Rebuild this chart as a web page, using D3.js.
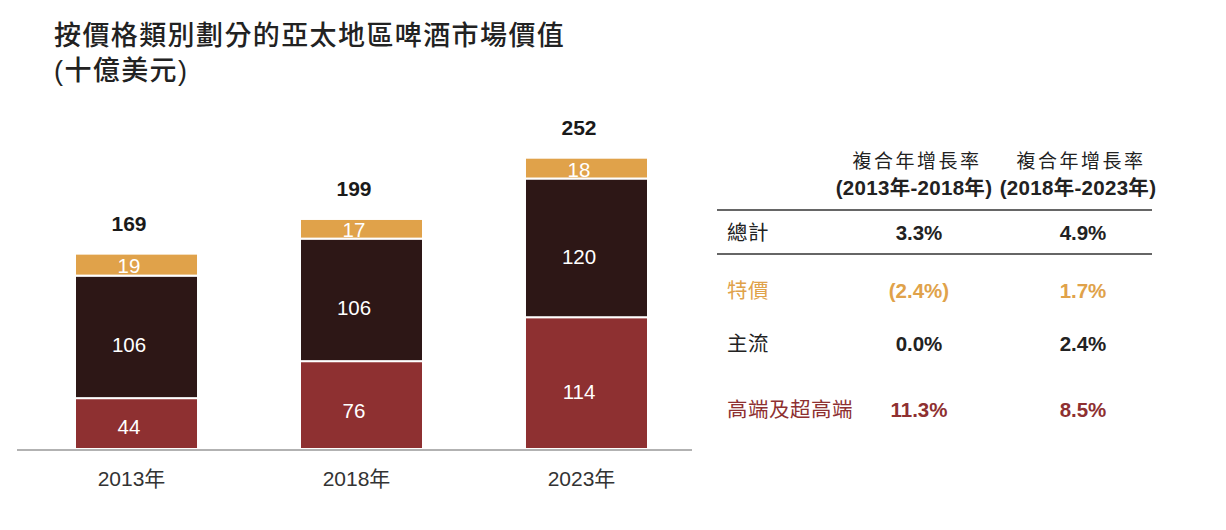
<!DOCTYPE html>
<html>
<head>
<meta charset="utf-8">
<script src="https://cdn.jsdelivr.net/npm/d3@7"></script>
<style>
  body { margin: 0; background: #fff; }
  svg { font-family: "Liberation Sans", "Noto Sans CJK TC", sans-serif; }
</style>
</head>
<body>
<div id="chart"></div>
<script>
// chart data
let years = ["2013年", "2018年", "2023年"];
let premium = [44, 76, 114];      // 高端及超高端
let mainstream = [106, 106, 120]; // 主流
let valueSeg = [19, 17, 18];      // 特價
let totals = [169, 199, 252];

// CAGR table
let rowLabels = ["總計", "特價", "主流", "高端及超高端"];
let cagr1 = ["3.3%", "(2.4%)", "0.0%", "11.3%"];
let cagr2 = ["4.9%", "1.7%", "2.4%", "8.5%"];
let headers = [["複合年增長率", "(2013年-2018年)"], ["複合年增長率", "(2018年-2023年)"]];
let titleLines = ["按價格類別劃分的亞太地區啤酒市場價值", "(十億美元)"];

let width = 1226;
let height = 530;

let colors = { premium: "#8E3031", mainstream: "#2D1716", value: "#E0A24A" };
let rowColors = ["#222", "#E0A24A", "#222", "#8E3031"];

let labelShift = -7.5; // labels sit a little left of bar centre in the original

let svg = d3.select("#chart")
            .append("svg")
            .attr("width", width)
            .attr("height", height);

// title, one text per line
svg.selectAll("text.title")
   .data(titleLines)
   .enter()
   .append("text")
   .attr("class", "title")
   .attr("x", 54)
   .attr("y", (d, i) => 45 + i * 35)
   .attr("fill", "#222")
   .style("font-family", "'Liberation Sans', 'Noto Sans CJK TC', sans-serif")
   .style("font-size", "27px")
   .style("font-weight", 500)
   .style("letter-spacing", "1.4px")
   .text(d => d);

// scales
let xScale = d3.scaleBand()
               .domain(years)
               .range([24, 699])
               .paddingInner(0.4533)
               .paddingOuter(0.2267);

let yScale = d3.scaleLinear()
               .domain([0, 252])
               .range([449, 157.7]);

let stackData = years.map((y, i) => ({
    year: y, premium: premium[i], mainstream: mainstream[i], value: valueSeg[i]
}));

let series = d3.stack().keys(["premium", "mainstream", "value"])(stackData);

let groups = svg.selectAll("g.series")
                .data(series)
                .enter()
                .append("g")
                .attr("class", "series")
                .attr("fill", d => colors[d.key]);

groups.selectAll("rect")
      .data(d => d)
      .enter()
      .append("rect")
      .attr("x", d => xScale(d.data.year))
      .attr("width", xScale.bandwidth())
      .attr("y", d => yScale(d[1]))
      .attr("height", d => yScale(d[0]) - yScale(d[1]))
      .attr("stroke", "#fff")
      .attr("stroke-width", 2);

groups.selectAll("text")
      .data(d => d)
      .enter()
      .append("text")
      .attr("x", d => xScale(d.data.year) + xScale.bandwidth() / 2 + labelShift)
      .attr("y", d => {
          let h = yScale(d[0]) - yScale(d[1]);
          return (yScale(d[0]) + yScale(d[1])) / 2 + h * 0.065;
      })
      .attr("dy", "0.36em")
      .attr("text-anchor", "middle")
      .attr("fill", "#fff")
      .style("font-size", "20.5px")
      .text(d => d[1] - d[0]);

// totals
svg.selectAll("text.total")
   .data(totals)
   .enter()
   .append("text")
   .attr("class", "total")
   .attr("x", (d, i) => xScale(years[i]) + xScale.bandwidth() / 2 + labelShift)
   .attr("y", d => yScale(d) - 23)
   .attr("text-anchor", "middle")
   .attr("fill", "#1a1a1a")
   .style("font-size", "21px")
   .style("font-weight", "bold")
   .text(d => d);

// x axis
let xAxis = d3.axisBottom(xScale).tickSize(0).tickPadding(21);
let axisG = svg.append("g")
               .attr("transform", "translate(0,450)")
               .call(xAxis);
axisG.select(".domain").remove();
axisG.selectAll("text")
     .attr("dx", -5)
     .attr("fill", "#333")
     .style("font-size", "21px")
     .style("font-family", "'Liberation Sans', 'Noto Sans CJK TC', sans-serif");
svg.append("line")
   .attr("x1", 17).attr("x2", 692)
   .attr("y1", 450).attr("y2", 450)
   .attr("stroke", "#999")
   .attr("stroke-width", 1.5);

// table
let colX = [917, 1081];
let table = svg.append("g");

headers.forEach((h, i) => {
    table.append("text")
         .attr("x", colX[i]).attr("y", 168)
         .attr("text-anchor", "middle")
         .attr("fill", "#222")
         .style("font-size", "19px")
         .style("letter-spacing", "2.5px")
         .text(h[0]);
    table.append("text")
         .attr("x", colX[i] - 3).attr("y", 195)
         .attr("text-anchor", "middle")
         .attr("fill", "#222")
         .style("font-size", "20.5px")
         .style("font-weight", "bold")
         .style("letter-spacing", "0.3px")
         .text(h[1]);
});

[210, 254].forEach(y => {
    table.append("line")
         .attr("x1", 717).attr("x2", 1152)
         .attr("y1", y).attr("y2", y)
         .attr("stroke", "#666")
         .attr("stroke-width", 2);
});

let rowY = [233, 291, 344, 410];

table.selectAll("text.rowlabel")
     .data(rowLabels)
     .enter()
     .append("text")
     .attr("class", "rowlabel")
     .attr("x", 727)
     .attr("y", (d, i) => rowY[i])
     .attr("dy", "0.36em")
     .attr("fill", (d, i) => rowColors[i])
     .style("font-size", "20.5px")
     .style("letter-spacing", "0.5px")
     .text(d => d);

[cagr1, cagr2].forEach((col, c) => {
    table.selectAll("text.col" + c)
         .data(col)
         .enter()
         .append("text")
         .attr("class", "col" + c)
         .attr("x", colX[c] + 2)
         .attr("y", (d, i) => rowY[i])
         .attr("dy", "0.36em")
         .attr("text-anchor", "middle")
         .attr("fill", (d, i) => rowColors[i])
         .style("font-size", "20.5px")
         .style("font-weight", "bold")
         .text(d => d);
});
</script>
</body>
</html>
